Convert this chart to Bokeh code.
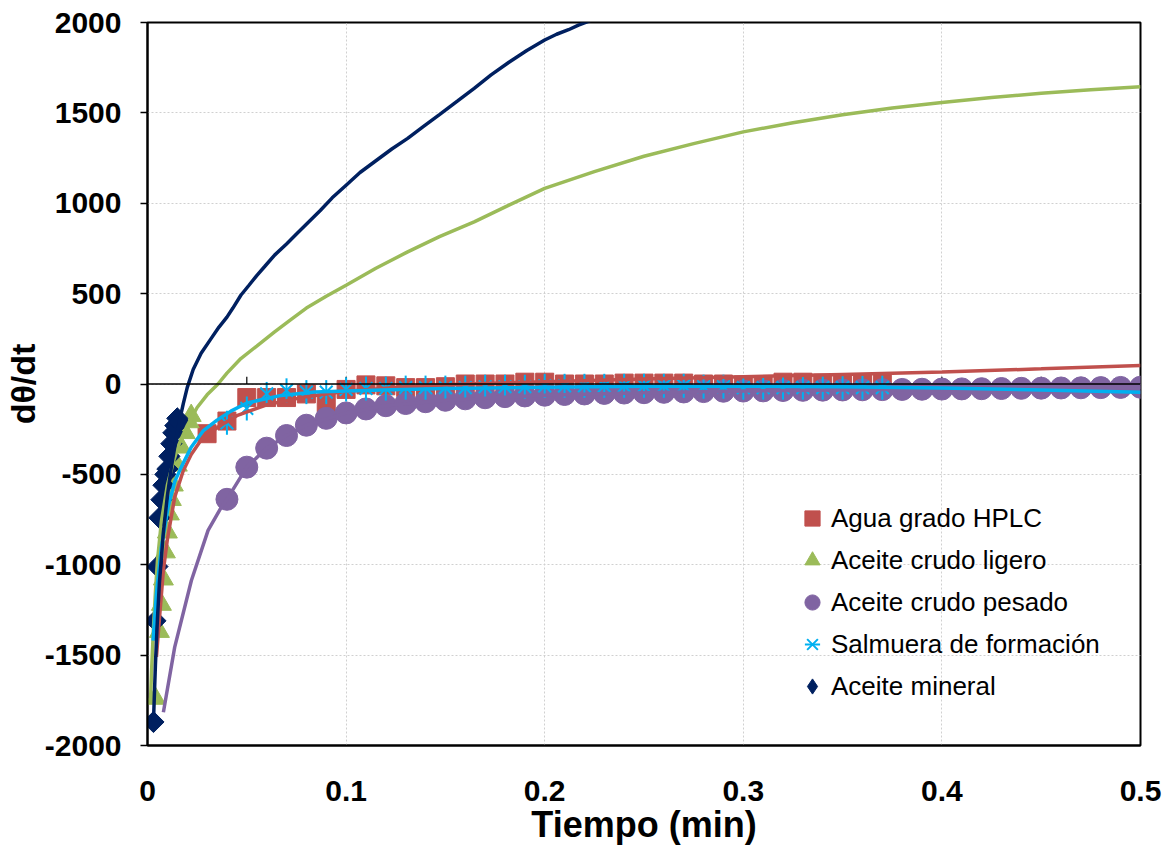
from bokeh.plotting import figure
from bokeh.models import Span, Legend, LegendItem, Range1d, FixedTicker
from bokeh.embed import file_html
from bokeh.resources import INLINE
import numpy as np

# --- measured points -------------------------------------------------------
t_agua = [0.03, 0.04, 0.05, 0.06, 0.07, 0.08, 0.09, 0.10, 0.11, 0.12, 0.13, 0.14,
          0.15, 0.16, 0.17, 0.18, 0.19, 0.20, 0.21, 0.22, 0.23, 0.24, 0.25, 0.26,
          0.27, 0.28, 0.29, 0.30, 0.31, 0.32, 0.33, 0.34, 0.35, 0.36, 0.37]
y_agua = [-275, -205, -75, -75, -75, -55, -105, -30, -5, -10, -20, -20,
          -15, 0, 0, 0, 10, 10, 0, 0, 0, 5, 5, 5,
          5, 0, 0, -5, -5, 10, 10, 5, 5, 5, 10]

t_ligero = [0.004, 0.006, 0.007, 0.008, 0.009, 0.010, 0.011, 0.012, 0.013, 0.015,
            0.017, 0.019, 0.021, 0.022]
y_ligero = [-1740, -1370, -1220, -1080, -930, -820, -720, -640, -560, -450,
            -350, -270, -210, -175]

t_pesado = [0.04, 0.05, 0.06, 0.07, 0.08, 0.09, 0.10, 0.11, 0.12, 0.13, 0.14, 0.15,
            0.16, 0.17, 0.18, 0.19, 0.20, 0.21, 0.22, 0.23, 0.24, 0.25, 0.26, 0.27,
            0.28, 0.29, 0.30, 0.31, 0.32, 0.33, 0.34, 0.35, 0.36, 0.37, 0.38, 0.39,
            0.40, 0.41, 0.42, 0.43, 0.44, 0.45, 0.46, 0.47, 0.48, 0.49, 0.50]
y_pesado = [-638, -460, -355, -285, -228, -190, -160, -138, -120, -108, -98, -90,
            -82, -76, -70, -66, -62, -58, -55, -52, -50, -48, -46, -44,
            -42, -40, -39, -38, -36, -35, -34, -33, -32, -31, -30, -29,
            -28, -27, -26, -25, -24, -23, -22, -21, -20, -19, -18]

t_salmuera = [0.04, 0.05, 0.06, 0.07, 0.08, 0.09, 0.10, 0.11, 0.12, 0.13, 0.14, 0.15,
              0.16, 0.17, 0.18, 0.19, 0.20, 0.21, 0.22, 0.23, 0.24, 0.25, 0.26, 0.27,
              0.28, 0.29, 0.30, 0.31, 0.32, 0.33, 0.34, 0.35, 0.36, 0.37]
y_salmuera = [-215, -135, -55, -35, -45, -45, -30, -25, -25, -20, -20, -20,
              -20, -15, -15, -15, -10, -10, -10, -10, -10, -10, -10, -10,
              -15, -15, -20, -20, -20, -20, -20, -20, -20, -20]

t_mineral = [0.003, 0.004, 0.005, 0.006, 0.007, 0.008, 0.009, 0.010, 0.011, 0.012,
             0.013, 0.014, 0.015, 0.016]
y_mineral = [-1870, -1310, -1010, -740, -640, -560, -500, -470, -400, -330,
             -270, -230, -190, -210]

# --- fitted curves ---------------------------------------------------------
ft_agua = [0.0045, 0.006, 0.008, 0.010, 0.0137, 0.018, 0.022, 0.0263, 0.0355, 0.045,
           0.06, 0.08, 0.10, 0.13, 0.16, 0.20, 0.25, 0.30, 0.35, 0.40, 0.45, 0.50]
fy_agua = [-1510, -1300, -1030, -860, -626, -480, -390, -321, -238, -175,
           -115, -70, -40, -15, 0, 12, 27, 40, 53, 66, 84, 103]

ft_ligero = [0.0015, 0.002, 0.003, 0.004, 0.005, 0.007, 0.010, 0.013, 0.016, 0.020,
             0.025, 0.030, 0.0355, 0.040, 0.047, 0.055, 0.064, 0.072, 0.08, 0.09,
             0.10, 0.115, 0.131, 0.147, 0.1645, 0.182, 0.20, 0.225, 0.25, 0.275,
             0.30, 0.325, 0.35, 0.375, 0.40, 0.425, 0.45, 0.475, 0.50]
fy_ligero = [-1760, -1600, -1350, -1150, -980, -760, -560, -430, -330, -230,
             -130, -60, 0, 60, 141, 210, 288, 355, 420, 485,
             546, 640, 731, 815, 897, 990, 1082, 1175, 1260, 1330,
             1395, 1445, 1490, 1527, 1558, 1585, 1608, 1628, 1644]

ft_pesado = [0.008, 0.0137, 0.0221, 0.0305, 0.0372, 0.04, 0.05, 0.06, 0.07, 0.08,
             0.10, 0.12, 0.15, 0.20, 0.25, 0.30, 0.35, 0.40, 0.45, 0.50]
fy_pesado = [-1816, -1456, -1087, -810, -681, -638, -460, -355, -285, -228,
             -160, -120, -90, -62, -48, -39, -33, -28, -23, -18]

ft_salmuera = [0.0028, 0.0045, 0.007, 0.0104, 0.0137, 0.017, 0.022, 0.028, 0.035,
               0.042, 0.05, 0.0673, 0.084, 0.1176, 0.15, 0.20, 0.25, 0.30, 0.35,
               0.40, 0.45, 0.50]
fy_salmuera = [-1420, -1160, -900, -680, -540, -460, -350, -260, -200,
               -150, -105, -63, -44, -33, -25, -18, -13, -12, -15,
               -22, -33, -46]

ft_mineral = [0.003, 0.004, 0.005, 0.006, 0.008, 0.010, 0.012, 0.014, 0.016, 0.018,
              0.020, 0.023, 0.027, 0.032, 0.036, 0.040, 0.043, 0.047, 0.051, 0.055,
              0.059, 0.064, 0.070, 0.075, 0.081, 0.087, 0.093, 0.10, 0.107, 0.115,
              0.123, 0.131, 0.139, 0.147, 0.156, 0.1645, 0.173, 0.182, 0.191, 0.20,
              0.206, 0.212, 0.217, 0.2223, 0.23]
fy_mineral = [-1870, -1550, -1300, -1100, -820, -620, -460, -330, -210, -110,
              -20, 80, 170, 251, 315, 370, 420, 491, 545, 600,
              650, 713, 775, 830, 895, 960, 1030, 1100, 1170, 1235,
              1300, 1359, 1425, 1490, 1565, 1636, 1710, 1780, 1845, 1903,
              1935, 1960, 1985, 2008, 2060]

x_ticks = [0, 0.1, 0.2, 0.3, 0.4, 0.5]
y_ticks = [-2000, -1500, -1000, -500, 0, 500, 1000, 1500, 2000]
zero_ticks = [0.05, 0.10, 0.15, 0.20, 0.25, 0.30, 0.35, 0.40, 0.45]

names = ["Agua grado HPLC", "Aceite crudo ligero", "Aceite crudo pesado",
         "Salmuera de formación", "Aceite mineral"]

RED, GREEN, PURPLE, CYAN, NAVY = "#C0504D", "#9BBB59", "#8064A2", "#00B0F0", "#002060"
FONT = "Liberation Sans, Arial, sans-serif"
LW = 3.5

p = figure(width=1170, height=852, x_range=Range1d(0, 0.5), y_range=Range1d(-2000, 2000),
           output_backend="svg", toolbar_location=None,
           min_border_left=146, min_border_right=30, min_border_top=22, min_border_bottom=107)
p.background_fill_color = "white"
p.border_fill_color = "white"
p.outline_line_color = "black"
p.outline_line_width = 2

# grid
for g in (p.xgrid, p.ygrid):
    g.grid_line_color = "#d0d0d0"
    g.grid_line_dash = "2 2"
    g.grid_line_width = 1
p.xgrid.ticker = FixedTicker(ticks=x_ticks)
p.ygrid.ticker = FixedTicker(ticks=y_ticks)

# axes
p.xaxis.ticker = FixedTicker(ticks=x_ticks)
p.yaxis.ticker = FixedTicker(ticks=y_ticks)
p.xaxis.major_label_overrides = {v: ("0" if v == 0 else f"{v:g}") for v in x_ticks}
p.yaxis.major_label_overrides = {v: str(v) for v in y_ticks}
for ax in (p.xaxis, p.yaxis):
    ax.axis_line_color = "black"
    ax.axis_line_width = 2
    ax.minor_tick_line_color = None
    ax.major_label_text_font = FONT
    ax.major_label_text_font_style = "bold"
    ax.major_label_text_font_size = "30px"
    ax.major_label_text_color = "black"
    ax.axis_label_text_font = FONT
    ax.axis_label_text_font_style = "bold"
    ax.axis_label_text_color = "black"
p.xaxis.major_tick_line_color = None
p.xaxis.major_label_standoff = 29
p.xaxis.axis_label = "Tiempo (min)"
p.xaxis.axis_label_text_font_size = "36px"
p.xaxis.axis_label_standoff = 0
p.yaxis.major_tick_line_color = "black"
p.yaxis.major_tick_line_width = 1.5
p.yaxis.major_tick_out = 7
p.yaxis.major_tick_in = 0
p.yaxis.major_label_standoff = 19
p.yaxis.axis_label = "dθ/dt"
p.yaxis.axis_label_text_font_size = "34px"
p.yaxis.axis_label_standoff = 0

# horizontal axis line through zero, with its ticks
p.add_layout(Span(location=0, dimension="width", line_color="black", line_width=1.5))
p.segment(x0=zero_ticks, y0=[0] * len(zero_ticks), x1=zero_ticks, y1=[40] * len(zero_ticks),
          line_color="black", line_width=1.2)

# measured points
r_agua = p.scatter(t_agua, y_agua, marker="square", size=18, fill_color=RED, line_color=RED)
r_ligero = p.scatter(t_ligero, y_ligero, marker="triangle", size=20, fill_color=GREEN, line_color=GREEN)
r_pesado = p.scatter(t_pesado, y_pesado, marker="circle", size=22, fill_color=PURPLE, line_color=PURPLE)
r_sal_x = p.scatter(t_salmuera, y_salmuera, marker="x", size=18, line_color=CYAN, line_width=2)
r_sal_bar = p.scatter(t_salmuera, y_salmuera, marker="dash", angle=np.pi / 2, size=24,
                      line_color=CYAN, line_width=2)
# diamond outline sits inside the rotated squares; it supplies the legend swatch
r_min_key = p.scatter(t_mineral, y_mineral, marker="diamond", size=20, fill_color=NAVY, line_color=NAVY)
p.scatter(t_mineral, y_mineral, marker="square", angle=np.pi / 4, size=15,
          fill_color=NAVY, line_color=NAVY)

# fitted curves
p.line(ft_agua, fy_agua, line_color=RED, line_width=LW)
p.line(ft_ligero, fy_ligero, line_color=GREEN, line_width=LW)
p.line(ft_pesado, fy_pesado, line_color=PURPLE, line_width=LW)
p.line(ft_salmuera, fy_salmuera, line_color=CYAN, line_width=LW)
p.line(ft_mineral, fy_mineral, line_color=NAVY, line_width=LW)

legend = Legend(items=[LegendItem(label=n, renderers=r) for n, r in
                       zip(names, [[r_agua], [r_ligero], [r_pesado], [r_sal_x, r_sal_bar], [r_min_key]])],
                location=(646, 38))
legend.background_fill_alpha = 0
legend.border_line_color = None
legend.label_text_font = FONT
legend.label_text_font_size = "26px"
legend.label_text_color = "black"
legend.glyph_width = 38
legend.glyph_height = 42
legend.label_standoff = 0
legend.spacing = 0
legend.padding = 0
legend.margin = 0
p.add_layout(legend, "center")

open("out.html", "w").write(file_html(p, INLINE))
